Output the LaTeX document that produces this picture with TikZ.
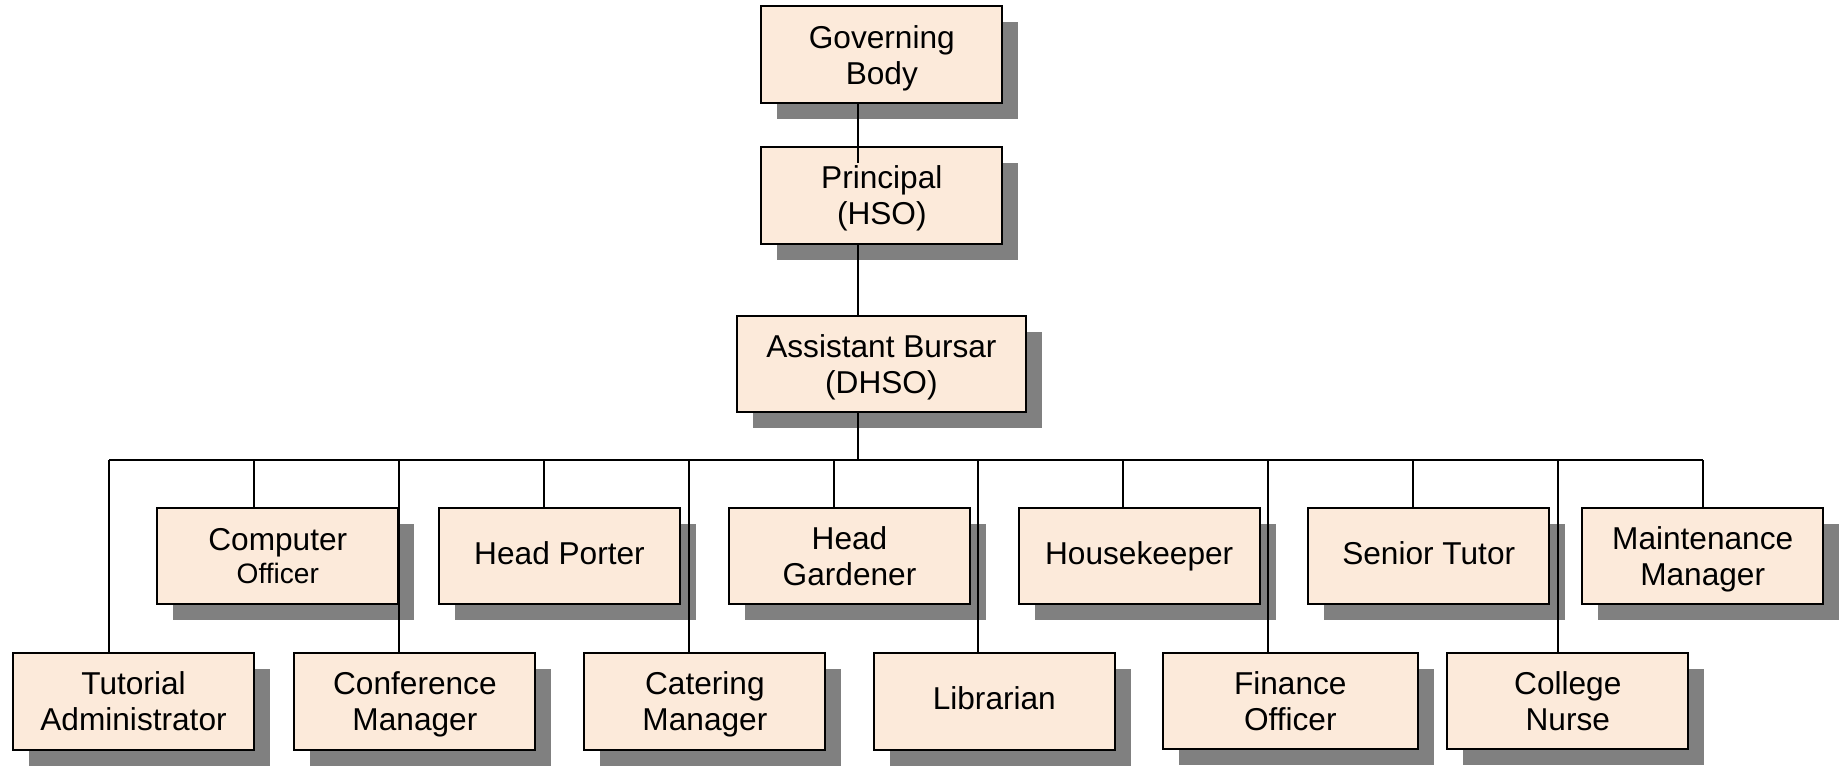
\documentclass[tikz,border=0pt]{standalone}
\usepackage{fontspec}
\setmainfont{Liberation Sans}
\usetikzlibrary{positioning, shadows, calc}

\definecolor{boxfill}{RGB}{252,234,218}
\definecolor{shadowgray}{RGB}{128,128,128}

\begin{document}
\begin{tikzpicture}[x=0.02cm, y=-0.02cm,
    block/.style={rectangle, draw=black, line width=1.1pt, fill=boxfill,
                  minimum width=4.82cm, minimum height=1.93cm, inner sep=0pt,
                  font=\fontsize{18}{20.5}\selectfont, align=center, text depth=0pt,
                  drop shadow={shadow xshift=0.32cm, shadow yshift=-0.32cm,
                               fill=shadowgray, opacity=1}},
    oneline/.style={text depth=3.8pt},
    link/.style={draw=black, line width=1.1pt}
]
    \useasboundingbox (0,0) rectangle (1843,767);

    % Top of the chart
    \node[block] (gov) at (881.8, 54.7) {Governing\\Body};
    \node[block] (prin) at (881.8, 195.3) {Principal\\(HSO)};
    \node[block, minimum width=5.79cm] (bursar) at (881.4, 364) {Assistant Bursar\\(DHSO)};

    % Upper row of staff
    \node[block] (comp) at (277.8, 556) {Computer\\[-1.2pt]{\fontsize{16}{18}\selectfont Officer}};
    \node[block, oneline] (porter) at (559.5, 556) {Head Porter};
    \node[block] (garden) at (849.5, 556) {Head\\Gardener};
    \node[block, oneline] (house) at (1139.2, 556) {Housekeeper};
    \node[block, oneline] (tutor) at (1428.7, 556) {Senior Tutor};
    \node[block] (maint) at (1702.7, 556) {Maintenance\\Manager};

    % Lower row of staff
    \node[block] (tutadmin) at (133.5, 701.5) {Tutorial\\Administrator};
    \node[block] (conf) at (414.9, 701.5) {Conference\\Manager};
    \node[block] (cater) at (704.9, 701.5) {Catering\\Manager};
    \node[block, oneline] (lib) at (994.3, 701.5) {Librarian};
    \node[block, minimum width=5.09cm] (finance) at (1290.3, 701) {Finance\\Officer};
    \node[block] (nurse) at (1567.8, 701) {College\\Nurse};

    % Trunk and bus
    \coordinate (trunk) at (858, 460);
    \coordinate (busL) at (109.3, 460);
    \coordinate (busR) at (1702.7, 460);
    \draw[link] (gov.south -| trunk) -- ($(prin.north -| trunk)+(0,16.5)$);
    \draw[link] (prin.south -| trunk) -- (bursar.north -| trunk);
    \draw[link] (bursar.south -| trunk) -- (trunk);
    \draw[link] (busL) -- (busR);

    % Drops to every post
    \foreach \n [count=\i from 0] in {tutadmin, comp, conf, porter, cater, garden,
                                      lib, house, finance, tutor, nurse, maint} {
        \coordinate (d\i) at (109.3+144.85*\i, 460);
        \draw[link] (d\i) -- (d\i |- \n.north);
    }

\end{tikzpicture}
\end{document}
